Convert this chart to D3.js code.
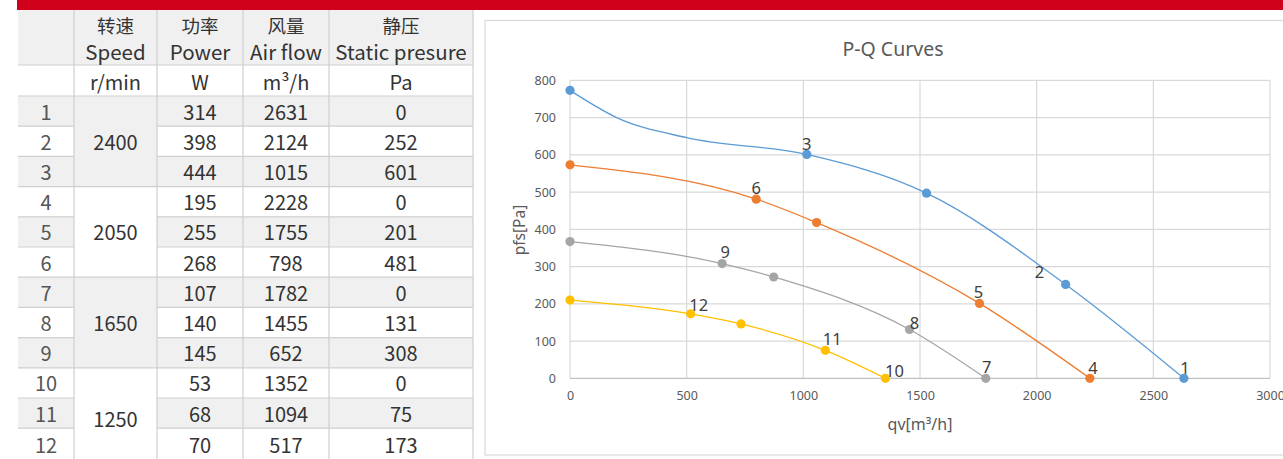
<!DOCTYPE html>
<html><head><meta charset="utf-8">
<script src="https://cdn.jsdelivr.net/npm/d3@7"></script>
<style>html,body{margin:0;padding:0;background:#fff;overflow:hidden}</style>
</head><body>
<svg id="c" width="1283" height="459"></svg>
<script>
// ---------- Table data ----------
const rowNumbers = [1,2,3,4,5,6,7,8,9,10,11,12];
const speedGroups = [2400, 2050, 1650, 1250];
const powerW = [314,398,444,195,255,268,107,140,145,53,68,70];
const airflowM3h = [2631,2124,1015,2228,1755,798,1782,1455,652,1352,1094,517];
const staticPa = [0,252,601,0,201,481,0,131,308,0,75,173];
const headerCN = ["转速","功率","风量","静压"];
const headerEN = ["Speed","Power","Air flow","Static presure"];
const unitLabels = ["r/min","W","m³/h","Pa"];

// ---------- Chart data (P-Q curves) ----------
const chartTitle = "P-Q Curves";
const xTicks = [0,500,1000,1500,2000,2500,3000];
const yTicks = [0,100,200,300,400,500,600,700,800];
// marker points (q in m3/h, p in Pa) and their labels
const blueQ = [0,1015,1528,2124,2631];
const blueP = [773,601,497,252,0];
const blueLabels = ["","3","","2","1"];
// extra points of the drawn smooth curve (no marker)
const blueCurveQ = [200,500];
const blueCurveP = [700,646];
const orangeQ = [0,798,1057,1755,2228];
const orangeP = [573,481,418,201,0];
const orangeLabels = ["","6","","5","4"];
const grayQ = [0,652,873,1455,1782];
const grayP = [367,308,272,131,0];
const grayLabels = ["","9","","8","7"];
const yellowQ = [0,517,733,1094,1352];
const yellowP = [210,173,146,75,0];
const yellowLabels = ["","12","","11","10"];

// ---------- Layout / style ----------
const svg = d3.select("#c");
const tableFont = "'Noto Sans CJK SC','Noto Sans',sans-serif";
const chartFont = "'Noto Sans','Open Sans',sans-serif";
const lineCol = "#cfcfcf", shade = "#f0f0f0", txt = "#333";

// red top bar
svg.append("rect").attr("x",17).attr("y",0).attr("width",1283-17).attr("height",10).attr("fill","#d0021b");

// ---- table ----
const colX = [18,74,157,243,329,473];
const headTop = 10, headBot = 65, unitBot = 96, rowH = 30.2, lastBot = 470;
const rowTop = i => unitBot + i*rowH;
const rowBot = i => i === 11 ? lastBot : unitBot + (i+1)*rowH;
const cx = j => (colX[j]+colX[j+1])/2;
const T = svg.append("g").attr("font-family", tableFont);

// backgrounds
T.append("rect").attr("x",colX[0]).attr("y",headTop).attr("width",colX[5]-colX[0]).attr("height",headBot-headTop).attr("fill",shade);
rowNumbers.forEach((n,i)=>{
  if (i%2===0) {
    T.append("rect").attr("x",colX[0]).attr("y",rowTop(i)).attr("width",colX[1]-colX[0]).attr("height",rowBot(i)-rowTop(i)).attr("fill",shade);
    T.append("rect").attr("x",colX[2]).attr("y",rowTop(i)).attr("width",colX[5]-colX[2]).attr("height",rowBot(i)-rowTop(i)).attr("fill",shade);
  }
});
speedGroups.forEach((s,g)=>{
  if (g%2===0) T.append("rect").attr("x",colX[1]).attr("y",rowTop(g*3)).attr("width",colX[2]-colX[1]).attr("height",rowBot(g*3+2)-rowTop(g*3)).attr("fill",shade);
});
// horizontal lines
const hl = (x1,x2,y) => T.append("line").attr("x1",x1).attr("x2",x2).attr("y1",y).attr("y2",y).attr("stroke",lineCol).attr("stroke-width",1.2);
hl(colX[0],colX[5],headBot); hl(colX[0],colX[5],unitBot);
rowNumbers.forEach((n,i)=>{
  if (i===11) return;
  const y = rowBot(i);
  if ((i+1)%3===0) hl(colX[0],colX[5],y);
  else { hl(colX[0],colX[1],y); hl(colX[2],colX[5],y); }
});
// vertical lines
[1,2,3,4,5].forEach(j=>T.append("line").attr("x1",colX[j]).attr("x2",colX[j]).attr("y1",headTop).attr("y2",lastBot).attr("stroke",lineCol).attr("stroke-width",1.2));

const tt = (x,y,s,col,size) => T.append("text").attr("x",x).attr("y",y).attr("text-anchor","middle").attr("dominant-baseline","central").attr("font-size",size||20).attr("fill",col||txt).text(s);
headerCN.forEach((h,k)=>tt(cx(k+1),25,h,txt,18.5));
headerEN.forEach((h,k)=>tt(cx(k+1),50.5,h,txt,20.5));
unitLabels.forEach((h,k)=>tt(cx(k+1),81,h,txt,20));
rowNumbers.forEach((n,i)=>{
  const yc = (rowTop(i)+Math.min(rowBot(i),rowTop(i)+rowH))/2 + (i===11?1.5:0);
  tt(cx(0),yc,n,"#555");
  tt(cx(2),yc,powerW[i]);
  tt(cx(3),yc,airflowM3h[i]);
  tt(cx(4),yc,staticPa[i]);
});
speedGroups.forEach((s,g)=>tt(cx(1),(rowTop(g*3)+rowBot(g*3+2))/2,s));

// ---- chart ----
svg.append("rect").attr("x",485).attr("y",20.5).attr("width",900).attr("height",434.5).attr("fill","#fff").attr("stroke","#d9d9d9").attr("stroke-width",1.2);
const x = d3.scaleLinear().domain([0,3000]).range([570,1270]);
const y = d3.scaleLinear().domain([0,800]).range([378.3,80.3]);
const C = svg.append("g").attr("font-family", chartFont);

C.append("text").attr("x",893).attr("y",48).attr("text-anchor","middle").attr("dominant-baseline","central").attr("font-size",19.5).attr("fill","#595959").text(chartTitle);

// grid
C.append("g").selectAll("line").data(yTicks.filter(v=>v>0)).join("line")
  .attr("x1",x(0)).attr("x2",x(3000)).attr("y1",d=>y(d)).attr("y2",d=>y(d)).attr("stroke","#d9d9d9").attr("stroke-width",1.2);
C.append("g").selectAll("line").data(xTicks).join("line")
  .attr("x1",d=>x(d)).attr("x2",d=>x(d)).attr("y1",y(0)).attr("y2",y(800)).attr("stroke","#d9d9d9").attr("stroke-width",1.2);
C.append("line").attr("x1",x(0)).attr("x2",x(3000)).attr("y1",y(0)).attr("y2",y(0)).attr("stroke","#bfbfbf").attr("stroke-width",1.2);

// axes tick labels
const ya = C.append("g").attr("transform",`translate(${x(0)},0)`).call(d3.axisLeft(y).tickValues(yTicks).tickSize(0).tickPadding(14));
const xa = C.append("g").attr("transform",`translate(0,${y(0)})`).call(d3.axisBottom(x).tickValues(xTicks).tickSize(0).tickPadding(13).tickFormat(d3.format("d")));
[ya,xa].forEach(a=>{a.select(".domain").remove(); a.selectAll("text").attr("font-size",12.5).attr("fill","#595959").attr("font-family",chartFont);});

C.append("text").attr("transform","translate(519,230) rotate(-90)").attr("text-anchor","middle").attr("dominant-baseline","central").attr("font-size",15.5).attr("fill","#595959").text("pfs[Pa]");
C.append("text").attr("x",920).attr("y",424).attr("text-anchor","middle").attr("dominant-baseline","central").attr("font-size",16).attr("fill","#595959").text("qv[m³/h]");

// series
const mk = (Q,P,L)=>Q.map((q,i)=>({q, p:P[i], label:L?L[i]:"", marker:!!L}));
const series = [
  {color:"#5b9bd5", pts: mk(blueQ,blueP,blueLabels), extra: mk(blueCurveQ,blueCurveP,null)},
  {color:"#ed7d31", pts: mk(orangeQ,orangeP,orangeLabels), extra: []},
  {color:"#a5a5a5", pts: mk(grayQ,grayP,grayLabels), extra: []},
  {color:"#ffc000", pts: mk(yellowQ,yellowP,yellowLabels), extra: []}
];
const labelOffset = {"1":[1,-11],"2":[-26,-13],"3":[0,-11],"4":[3,-11],"5":[-1,-12],"6":[0,-12],
  "7":[1,-12],"8":[5,-7],"9":[3,-12],"10":[9,-8],"11":[7,-12],"12":[8,-9]};
const line = d3.line().x(d=>x(d.q)).y(d=>y(d.p)).curve(d3.curveMonotoneX);
series.forEach(s=>{
  const all = s.pts.concat(s.extra).sort((a,b)=>a.q-b.q);
  C.append("path").attr("d",line(all)).attr("fill","none").attr("stroke",s.color).attr("stroke-width",1.3);
});
series.forEach(s=>{
  C.append("g").selectAll("circle").data(s.pts).join("circle")
    .attr("cx",d=>x(d.q)).attr("cy",d=>y(d.p)).attr("r",4.6).attr("fill",s.color);
});
series.forEach(s=>{
  C.append("g").selectAll("text").data(s.pts.filter(d=>d.label)).join("text")
    .attr("x",d=>x(d.q)+labelOffset[d.label][0]).attr("y",d=>y(d.p)+labelOffset[d.label][1])
    .attr("text-anchor","middle").attr("dominant-baseline","central")
    .attr("font-size",16.5).attr("fill","#404040").text(d=>d.label);
});
</script>
</body></html>
